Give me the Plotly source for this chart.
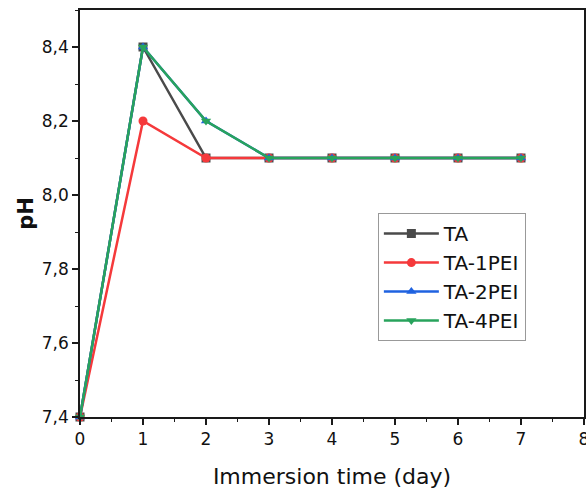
import plotly.graph_objects as go

days = [0, 1, 2, 3, 4, 5, 6, 7]
ta = [7.4, 8.4, 8.1, 8.1, 8.1, 8.1, 8.1, 8.1]
ta_1pei = [7.4, 8.2, 8.1, 8.1, 8.1, 8.1, 8.1, 8.1]
ta_2pei = [7.4, 8.4, 8.2, 8.1, 8.1, 8.1, 8.1, 8.1]
ta_4pei = [7.4, 8.4, 8.2, 8.1, 8.1, 8.1, 8.1, 8.1]

series = [
    ("TA", ta, "#4a4a4a", "square"),
    ("TA-1PEI", ta_1pei, "#f5393b", "circle"),
    ("TA-2PEI", ta_2pei, "#1f62e0", "triangle-up"),
    ("TA-4PEI", ta_4pei, "#28a35c", "triangle-down"),
]

font_family = "DejaVu Sans, sans-serif"

fig = go.Figure()
for name, vals, color, sym in series:
    fig.add_trace(go.Scatter(
        x=days, y=vals, name=name, mode="lines+markers",
        line=dict(color=color, width=2.5),
        marker=dict(symbol=sym, size=9, color=color),
        cliponaxis=False,
    ))

axis_common = dict(
    showline=True, linecolor="#1a1a1a", linewidth=1.5, mirror=True,
    ticks="outside", ticklen=6, tickwidth=1.5, tickcolor="#1a1a1a",
    showgrid=False, zeroline=False, automargin=False,
    ticklabeloverflow="allow",
    tickfont=dict(size=17, color="#111"),
    minor=dict(ticks="outside", ticklen=3, tickwidth=1.2, tickcolor="#1a1a1a"),
)

fig.update_xaxes(
    range=[0, 8], tickmode="linear", tick0=0, dtick=1,
    title=dict(text="Immersion time (day)", font=dict(size=22, color="#111"), standoff=20),
    minor_dtick=0.5, **axis_common,
)
fig.update_yaxes(
    range=[7.4, 8.5], tickmode="linear", tick0=7.4, dtick=0.2, tickformat=".1f",
    title=dict(text="<b>pH</b>", font=dict(size=21, color="#111"), standoff=2),
    minor_dtick=0.1, **axis_common,
)

fig.update_layout(
    width=586, height=492,
    margin=dict(l=80, r=2, t=10, b=75),
    paper_bgcolor="white", plot_bgcolor="white",
    separators=",.",
    font=dict(family=font_family, color="#111"),
    legend=dict(
        x=0.591, y=0.501, xanchor="left", yanchor="top",
        bordercolor="#999999", borderwidth=1, bgcolor="white",
        font=dict(size=20, color="#111"), tracegroupgap=0,
        itemwidth=55,
    ),
    showlegend=True,
)

fig.write_html("out.html", config={"displayModeBar": False},
               post_script="document.body.style.margin='0';")
